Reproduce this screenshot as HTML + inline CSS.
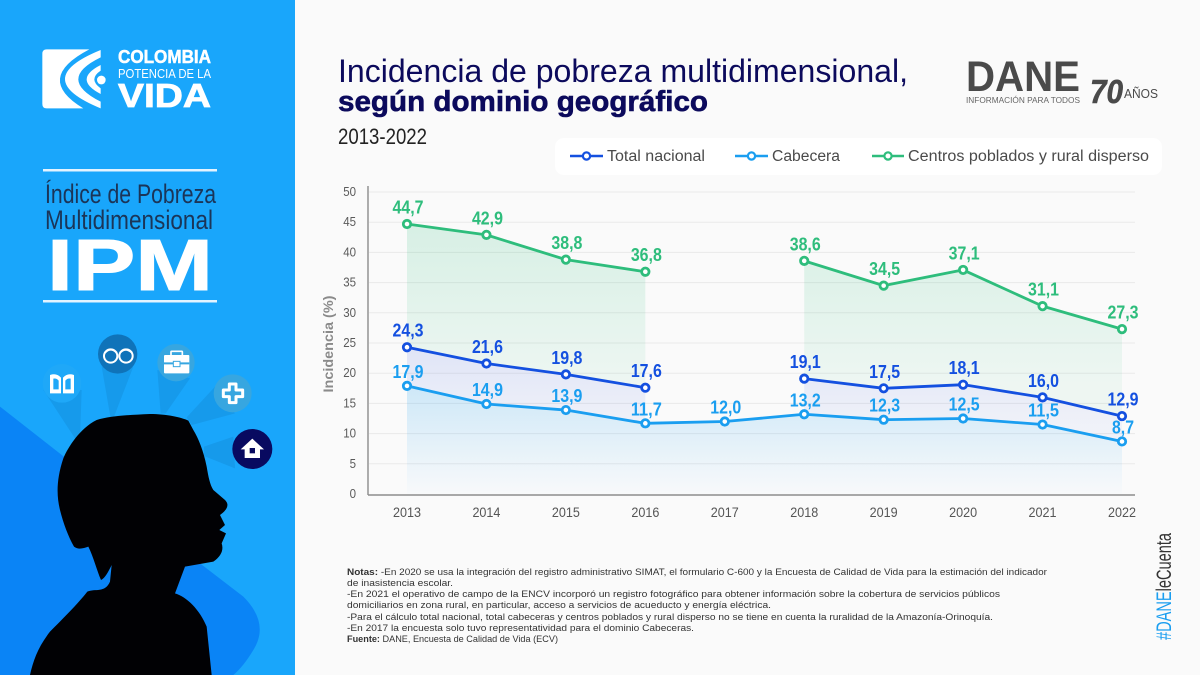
<!DOCTYPE html>
<html lang="es">
<head>
<meta charset="utf-8">
<title>Incidencia de pobreza multidimensional</title>
<style>
html,body{margin:0;padding:0;background:#fafafa;}
svg{display:block;font-family:"Liberation Sans",sans-serif;}
</style>
</head>
<body>
<svg id="page" xmlns="http://www.w3.org/2000/svg" width="1200" height="675" viewBox="0 0 1200 675">
  <defs>
    <linearGradient id="grad-rural" gradientUnits="userSpaceOnUse" x1="0" y1="224" x2="0" y2="385">
      <stop offset="0" stop-color="#2ebd7c" stop-opacity=".17"/>
      <stop offset="1" stop-color="#2ebd7c" stop-opacity=".06"/>
    </linearGradient>
    <linearGradient id="grad-total" gradientUnits="userSpaceOnUse" x1="0" y1="345" x2="0" y2="425">
      <stop offset="0" stop-color="#2a50e0" stop-opacity=".13"/>
      <stop offset="1" stop-color="#2a50e0" stop-opacity=".05"/>
    </linearGradient>
    <linearGradient id="grad-cabecera" gradientUnits="userSpaceOnUse" x1="0" y1="385" x2="0" y2="494">
      <stop offset="0" stop-color="#1a9ef0" stop-opacity=".2"/>
      <stop offset="1" stop-color="#1a9ef0" stop-opacity=".01"/>
    </linearGradient>
  </defs>

  <rect x="0" y="0" width="1200" height="675" fill="#fafafa"/>

  <!-- Left panel -->
  <g>
    <rect x="0" y="0" width="295" height="675" fill="#19a6fb"/>
    <g transform="translate(0,330) scale(.33333)">
      <path d="M0 230 L600 700 L730 800 Q810 880 760 960 Q730 1010 700 1035 L0 1035Z" fill="#0a84f6"/>
      <g fill="#0b5f9e" fill-opacity=".17">
        <path d="M130 180 L245 180 L240 325 L225 325Z"/>
        <path d="M305 110 L400 110 L340 265 L332 265Z"/>
        <path d="M472 120 L570 145 L497 250 L482 250Z"/>
        <path d="M645 170 L705 250 L575 285 L560 262Z"/>
        <path d="M700 320 L705 415 L612 378 L612 350Z"/>
      </g>
      <path d="M90 1035 C100 990 115 950 150 905 C185 870 235 820 262 785 C285 775 315 790 330 755 L335 705 C325 725 315 745 303 750 C290 720 280 680 265 650 C250 655 235 660 222 650 C205 620 190 580 180 540 C170 500 168 450 190 385 C205 350 240 295 290 270 C330 258 380 255 450 252 C500 252 545 262 565 272 L580 300 C595 325 610 360 620 410 C625 440 630 465 640 480 L675 510 Q695 530 660 555 L675 585 L658 600 L678 610 L665 640 Q675 670 640 695 L555 710 L525 790 C560 800 600 840 620 890 L635 1035Z" fill="#010104"/>

      <g>
        <circle cx="186" cy="160" r="58" fill="#1fa8f8"/>
        <path d="M150 135 Q170 128 183 143 L183 190 L150 190Z M222 135 Q202 128 189 143 L189 190 L222 190Z" fill="#fff"/>
        <path d="M160 146 Q170 144 176 152 L176 178 L160 178Z M212 146 Q202 144 196 152 L196 178 L212 178Z" fill="#1fa8f8"/>
      </g>
      <g>
        <circle cx="353" cy="72" r="59" fill="#0f73b9"/>
        <circle cx="332" cy="78" r="20" fill="none" stroke="#fff" stroke-width="6"/>
        <circle cx="378" cy="78" r="20" fill="none" stroke="#fff" stroke-width="6"/>
        <path d="M315 68 Q332 50 350 68 M360 68 Q378 50 396 68" fill="none" stroke="#fff" stroke-width="6"/>
      </g>
      <g>
        <circle cx="528" cy="98" r="56" fill="#37a6e0"/>
        <rect x="492" y="75" width="76" height="55" rx="3" fill="#fff"/>
        <rect x="513" y="64" width="34" height="14" rx="2" fill="none" stroke="#fff" stroke-width="5"/>
        <path d="M492 100 L568 100" stroke="#37a6e0" stroke-width="6"/>
        <rect x="520" y="94" width="20" height="16" fill="#fff" stroke="#37a6e0" stroke-width="3"/>
      </g>
      <g>
        <circle cx="698" cy="190" r="57" fill="#37a6e0"/>
        <path d="M688 162 H708 V180 H728 V200 H708 V218 H688 V200 H670 V180 H688Z" fill="#37a6e0" stroke="#fff" stroke-width="9" stroke-linejoin="round"/>
      </g>
      <g>
        <circle cx="757" cy="357" r="60" fill="#080a60"/>
        <path d="M757 326 L792 358 L780 358 L780 384 L734 384 L734 358 L722 358Z" fill="#fff"/>
        <rect x="749" y="354" width="16" height="16" fill="#080a60"/>
      </g>
    </g>

    <g transform="scale(.33333)">
      <path d="M140 148 L268 148 Q101 235 250 325 L140 325 Q127 325 127 312 L127 161 Q127 148 140 148Z" fill="#fff"/>
      <path d="M302 150 Q88 237 302 325 L302 305 Q168 237 302 172Z" fill="#fff"/>
      <path d="M302 195 Q218 238 302 282 L302 265 Q264 238 302 212Z" fill="#fff"/>
      <circle cx="304" cy="240" r="13" fill="#fff"/>
    </g>
    <text x="118" y="63" font-size="18" font-weight="700" fill="#fff" stroke="#fff" stroke-width=".5" textLength="93" lengthAdjust="spacingAndGlyphs">COLOMBIA</text>
    <text x="118" y="78" font-size="13" fill="#fff" textLength="93" lengthAdjust="spacingAndGlyphs">POTENCIA DE LA</text>
    <text x="118" y="107" font-size="33" font-weight="700" fill="#fff" stroke="#fff" stroke-width=".8" textLength="93" lengthAdjust="spacingAndGlyphs">VIDA</text>

    <rect x="43" y="169" width="174" height="2.5" fill="#e3f3ff"/>
    <rect x="43" y="300" width="174" height="2.5" fill="#e3f3ff"/>
    <text x="45" y="203" font-size="27" fill="#1b3558" textLength="171" lengthAdjust="spacingAndGlyphs">Índice de Pobreza</text>
    <text x="45" y="229" font-size="27" fill="#1b3558" textLength="168" lengthAdjust="spacingAndGlyphs">Multidimensional</text>
    <text x="47" y="290" font-size="72" font-weight="700" fill="#fff" stroke="#fff" stroke-width="1" textLength="166" lengthAdjust="spacingAndGlyphs">IPM</text>
  </g>

  <!-- Header -->
  <text x="338" y="82" font-size="32" fill="#0c0a5c" textLength="570" lengthAdjust="spacingAndGlyphs">Incidencia de pobreza multidimensional,</text>
  <text x="338" y="111" font-size="29" font-weight="700" fill="#0c0a5c" stroke="#0c0a5c" stroke-width=".6" textLength="370" lengthAdjust="spacingAndGlyphs">según dominio geográfico</text>
  <text x="338" y="144" font-size="22" fill="#222" textLength="89" lengthAdjust="spacingAndGlyphs">2013-2022</text>

  <g fill="#4a4a4a">
    <text x="966" y="91" font-size="43" font-weight="700" textLength="114" lengthAdjust="spacingAndGlyphs">DANE</text>
    <text x="966" y="103" font-size="8.5" fill="#666" textLength="114" lengthAdjust="spacingAndGlyphs">INFORMACIÓN PARA TODOS</text>
    <text x="1090" y="103" font-size="33" font-weight="700" font-style="italic" stroke="#4a4a4a" stroke-width=".6" textLength="33" lengthAdjust="spacingAndGlyphs">70</text>
    <text x="1124" y="98" font-size="13" textLength="34" lengthAdjust="spacingAndGlyphs">AÑOS</text>
  </g>

  <!-- Legend -->
  <g>
    <rect x="555" y="138" width="607" height="37" rx="9" fill="#fff"/>
    <g>
      <line x1="570" y1="156" x2="603" y2="156" stroke="#1450e0" stroke-width="2.6"/>
      <circle cx="586.5" cy="156" r="3.6" fill="#fff" stroke="#1450e0" stroke-width="2.2"/>
      <text x="607" y="161" font-size="15.5" fill="#4a4a4a" textLength="98" lengthAdjust="spacingAndGlyphs">Total nacional</text>
    </g>
    <g>
      <line x1="735" y1="156" x2="768" y2="156" stroke="#1a9ef0" stroke-width="2.6"/>
      <circle cx="751.5" cy="156" r="3.6" fill="#fff" stroke="#1a9ef0" stroke-width="2.2"/>
      <text x="772" y="161" font-size="15.5" fill="#4a4a4a" textLength="68" lengthAdjust="spacingAndGlyphs">Cabecera</text>
    </g>
    <g>
      <line x1="872" y1="156" x2="904" y2="156" stroke="#2ebd7c" stroke-width="2.6"/>
      <circle cx="888" cy="156" r="3.6" fill="#fff" stroke="#2ebd7c" stroke-width="2.2"/>
      <text x="908" y="161" font-size="15.5" fill="#4a4a4a" textLength="241" lengthAdjust="spacingAndGlyphs">Centros poblados y rural disperso</text>
    </g>
  </g>

  <!-- Chart -->
  <g id="chart"></g>
  <text transform="translate(333,344) rotate(-90)" text-anchor="middle" font-size="13.5" font-weight="700" fill="#8a8a8a" textLength="97" lengthAdjust="spacingAndGlyphs">Incidencia (%)</text>

  <!-- Notes -->
  <g font-size="9.6" fill="#333">
    <text x="347" y="575" textLength="700" lengthAdjust="spacingAndGlyphs"><tspan font-weight="700">Notas:</tspan> -En 2020 se usa la integración del registro administrativo SIMAT, el formulario C-600 y la Encuesta de Calidad de Vida para la estimación del indicador</text>
    <text x="347" y="586" textLength="106" lengthAdjust="spacingAndGlyphs">de inasistencia escolar.</text>
    <text x="347" y="597" textLength="653" lengthAdjust="spacingAndGlyphs">-En 2021 el operativo de campo de la ENCV incorporó un registro fotográfico para obtener información sobre la cobertura de servicios públicos</text>
    <text x="347" y="608" textLength="424" lengthAdjust="spacingAndGlyphs">domiciliarios en zona rural, en particular, acceso a servicios de acueducto y energía eléctrica.</text>
    <text x="347" y="620" textLength="646" lengthAdjust="spacingAndGlyphs">-Para el cálculo total nacional, total cabeceras y centros poblados y rural disperso no se tiene en cuenta la ruralidad de la Amazonía-Orinoquía.</text>
    <text x="347" y="631" textLength="347" lengthAdjust="spacingAndGlyphs">-En 2017 la encuesta solo tuvo representatividad para el dominio Cabeceras.</text>
    <text x="347" y="642" textLength="211" lengthAdjust="spacingAndGlyphs"><tspan font-weight="700">Fuente:</tspan> DANE, Encuesta de Calidad de Vida (ECV)</text>
  </g>

  <text transform="translate(1171,640) rotate(-90)" font-size="21" textLength="107" lengthAdjust="spacingAndGlyphs"><tspan fill="#1a9ef0">#DANE</tspan><tspan fill="#333">leCuenta</tspan></text>
</svg>

<script>
const years = [2013, 2014, 2015, 2016, 2017, 2018, 2019, 2020, 2021, 2022];
const yTicks = [0, 5, 10, 15, 20, 25, 30, 35, 40, 45, 50];
const totalNacional = [24.3, 21.6, 19.8, 17.6, null, 19.1, 17.5, 18.1, 16.0, 12.9];
const cabecera = [17.9, 14.9, 13.9, 11.7, 12.0, 13.2, 12.3, 12.5, 11.5, 8.7];
const ruralDisperso = [44.7, 42.9, 38.8, 36.8, null, 38.6, 34.5, 37.1, 31.1, 27.3];

const SVGNS = 'http://www.w3.org/2000/svg';
const chart = document.getElementById('chart');
const xAt = (i) => 407 + i * (1122 - 407) / (years.length - 1);
const yAt = (v) => 494 - v * (494 - 192) / 50;

function make(tag, attrs, parent) {
  const el = document.createElementNS(SVGNS, tag);
  for (const k in attrs) el.setAttribute(k, attrs[k]);
  parent.appendChild(el);
  return el;
}

function segments(values) {
  const out = [];
  let cur = [];
  values.forEach((v, i) => {
    if (v === null) {
      if (cur.length) out.push(cur);
      cur = [];
    } else {
      cur.push(i);
    }
  });
  if (cur.length) out.push(cur);
  return out;
}

yTicks.forEach((t) => {
  if (t > 0) {
    const grid = make('line', { x1: 369, x2: 1135, y1: yAt(t), y2: yAt(t), stroke: '#e9e9e9', 'stroke-width': 1 }, chart);
    
    
  }
  const str = String(t);
  const lab = make('text', { x: 356, y: yAt(t) + 4, 'text-anchor': 'end', 'font-size': 13, fill: '#5a5a5a', textLength: str.length * 6.4, lengthAdjust: 'spacingAndGlyphs' }, chart);
  lab.textContent = str;
  
  
});

years.forEach((yr, i) => {
  const lab = make('text', { x: xAt(i), y: 517, 'text-anchor': 'middle', 'font-size': 14, fill: '#555', textLength: 28, lengthAdjust: 'spacingAndGlyphs' }, chart);
  lab.textContent = String(yr);
  
  
});

function drawArea(upper, lower, fill, name) {
  segments(upper).forEach((seg) => {
    let d = '';
    seg.forEach((i, n) => { d += (n ? ' L' : 'M') + xAt(i) + ' ' + yAt(upper[i]); });
    seg.slice().reverse().forEach((i) => {
      const base = lower ? lower[i] : 0;
      d += ' L' + xAt(i) + ' ' + yAt(base);
    });
    d += 'Z';
    const area = make('path', { d: d, fill: fill }, chart);
    
    
  });
}

function drawSeries(values, color, name, labelGap) {
  segments(values).forEach((seg) => {
    const pts = seg.map((i) => xAt(i) + ',' + yAt(values[i])).join(' ');
    const line = make('polyline', { points: pts, fill: 'none', stroke: color, 'stroke-width': 2.8, 'stroke-linejoin': 'round' }, chart);
    
    
  });
  values.forEach((v, i) => {
    if (v === null) return;
    const pt = make('circle', { cx: xAt(i), cy: yAt(v), r: 3.7, fill: '#fff', stroke: color, 'stroke-width': 2.8 }, chart);
    
    
    const str = v.toFixed(1).replace('.', ',');
    const lab = make('text', {
      x: xAt(i) + 1, y: yAt(v) - labelGap, 'text-anchor': 'middle',
      'font-size': 18.5, 'font-weight': 700, fill: color,
      textLength: (str.length - 1) * 9 + 4, lengthAdjust: 'spacingAndGlyphs'
    }, chart);
    lab.textContent = str;
    
    
  });
}

drawArea(ruralDisperso, totalNacional, 'url(#grad-rural)', 'rural-area');
drawArea(totalNacional, cabecera, 'url(#grad-total)', 'total-area');
drawArea(cabecera, null, 'url(#grad-cabecera)', 'cabecera-area');

const yAxis = make('line', { x1: 368, x2: 368, y1: 186, y2: 495, stroke: '#8c8c8c', 'stroke-width': 1.4 }, chart);


const xAxis = make('line', { x1: 368, x2: 1135, y1: 495, y2: 495, stroke: '#8c8c8c', 'stroke-width': 1.4 }, chart);



drawSeries(ruralDisperso, '#2ebd7c', 'rural', 10.5);
drawSeries(totalNacional, '#1450e0', 'total', 10.5);
drawSeries(cabecera, '#1a9ef0', 'cabecera', 8);
</script>
</body>
</html>
